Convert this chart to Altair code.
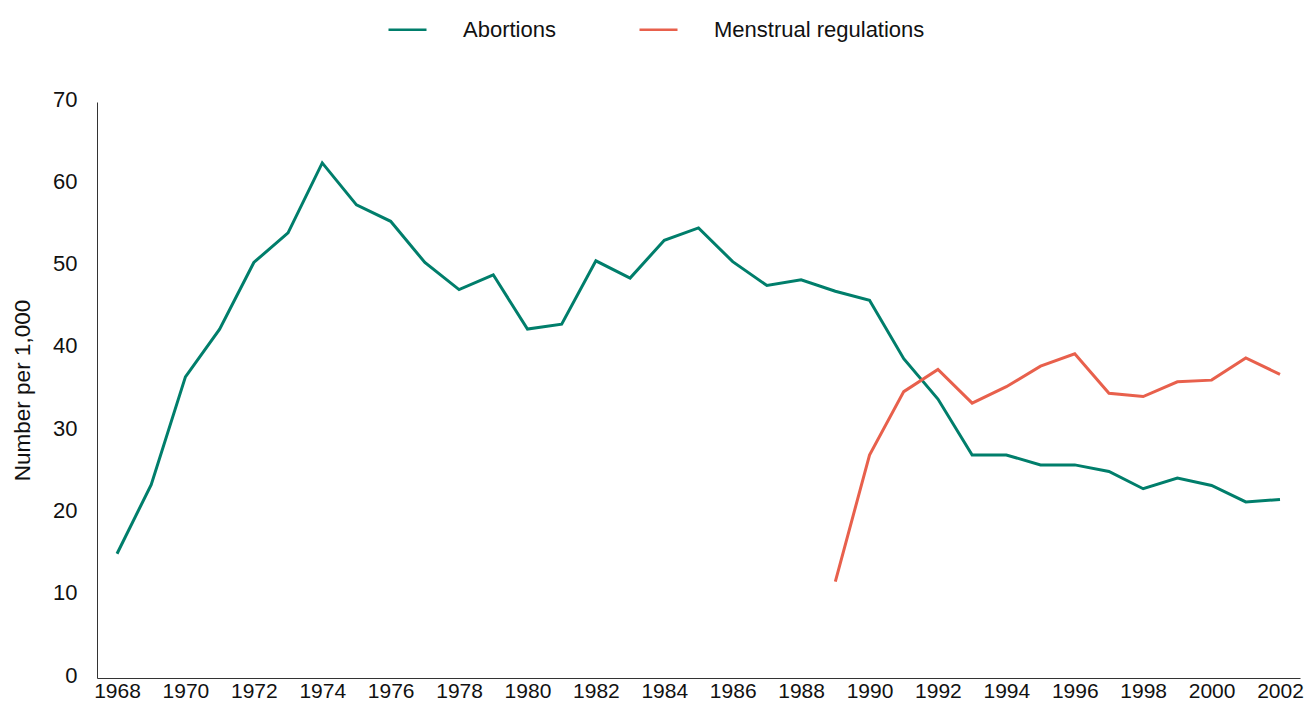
import altair as alt
import pandas as pd

years_abortions = list(range(1968, 2003))
abortions = [15.1, 23.5, 36.6, 42.4, 50.5, 54.1, 62.6, 57.5, 55.5, 50.5,
             47.2, 49.0, 42.4, 43.0, 50.7, 48.6, 53.2, 54.7, 50.6, 47.7,
             48.4, 47.0, 45.9, 38.8, 33.9, 27.1, 27.1, 25.9, 25.9, 25.1,
             23.0, 24.3, 23.4, 21.4, 21.7]

years_mr = list(range(1989, 2003))
menstrual = [11.7, 27.1, 34.8, 37.5, 33.4, 35.4, 37.9, 39.4, 34.6, 34.2,
             36.0, 36.2, 38.9, 36.9]

series_names = ["Abortions", "Menstrual regulations"]
series_colors = ["#007E6B", "#E8604C"]
x_ticks = list(range(1968, 2003, 2))
y_ticks = list(range(0, 71, 10))

df = pd.concat([
    pd.DataFrame({"year": years_abortions, "value": abortions, "series": series_names[0]}),
    pd.DataFrame({"year": years_mr, "value": menstrual, "series": series_names[1]}),
])

FONT = "Liberation Sans, Arial, Helvetica, sans-serif"

chart = alt.Chart(df).mark_line(strokeWidth=3).encode(
    x=alt.X("year:Q",
            scale=alt.Scale(domain=[1967.415, 2002.585], nice=False, zero=False),
            axis=alt.Axis(values=x_ticks, format="d", title=None, grid=False,
                          ticks=False, tickSize=0, labelPadding=2,
                          labelFontSize=21, labelFont=FONT, labelColor="#111",
                          domainColor="#333", domainWidth=1, labelFlush=False)),
    y=alt.Y("value:Q",
            scale=alt.Scale(domain=[0, 70], nice=False),
            axis=alt.Axis(values=y_ticks, title="Number per 1,000", grid=False,
                          ticks=False, tickSize=0, labelPadding=20,
                          labelOffset=-3,
                          labelFontSize=22, labelFont=FONT, labelColor="#111",
                          titleFontSize=22.5, titleFont=FONT, titleFontWeight="normal",
                          titleColor="#111", titleX=-75, titleY=288,
                          titleBaseline="middle", titleAlign="center",
                          domainColor="#333", domainWidth=1)),
    color=alt.Color("series:N",
                    scale=alt.Scale(domain=series_names, range=series_colors),
                    legend=alt.Legend(title=None, orient="none", direction="horizontal",
                                      legendX=290, legendY=-93,
                                      symbolType="stroke", symbolSize=1444,
                                      symbolStrokeWidth=2.5, labelOffset=35,
                                      columnPadding=78, padding=0, labelLimit=0,
                                      labelFontSize=22, labelFont=FONT,
                                      labelColor="#111")),
).properties(
    width=1203,
    height=576,
    background="white",
    autosize=alt.AutoSizeParams(type="none"),
    padding={"left": 89, "top": 94, "right": 4, "bottom": 24},
).configure_view(stroke=None)

chart.save("out.html", embed_options={"renderer": "svg", "actions": False})
